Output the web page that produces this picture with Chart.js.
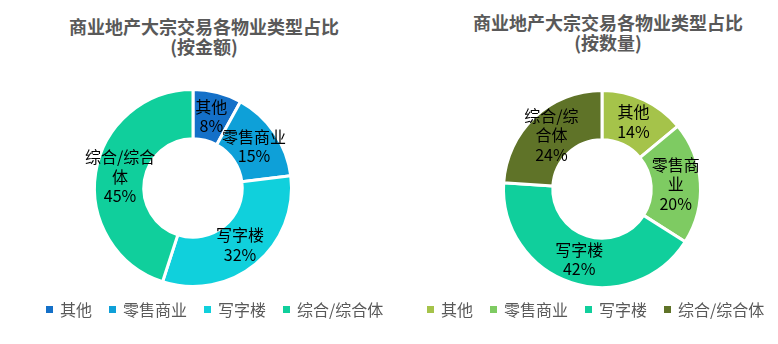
<!DOCTYPE html>
<html>
<head>
<meta charset="utf-8">
<script src="https://cdn.jsdelivr.net/npm/chart.js@4.4.1/dist/chart.umd.min.js"></script>
<style>
  html, body { margin: 0; padding: 0; background: #fff; }
  body { width: 778px; height: 344px; position: relative; overflow: hidden;
         font-family: "Microsoft YaHei", "Noto Sans CJK SC", sans-serif; }
  .title { position: absolute; width: 300px; text-align: center; font-size: 18px;
           font-weight: bold; color: #595959; line-height: 20px; }
  .donut { position: absolute; width: 220px; height: 220px; }
  .legend { position: absolute; top: 299px; display: flex; font-size: 16px; color: #595959;
            line-height: 20px; white-space: nowrap; }
  .legend span.item { display: flex; align-items: center; margin-right: 17px; }
  .legend i { display: inline-block; width: 7px; height: 7px; margin-right: 7px; }
</style>
</head>
<body>
<div class="title" style="left:54px; top:16px;">商业地产大宗交易各物业类型占比<br>(按金额)</div>
<div class="title" style="left:458px; top:12px;">商业地产大宗交易各物业类型占比<br>(按数量)</div>
<div class="donut" style="left:82.5px; top:77.5px;"><canvas id="amountChart"></canvas></div>
<div class="donut" style="left:491.5px; top:78.5px;"><canvas id="countChart"></canvas></div>
<div class="legend" id="amountLegend" style="left:46px;"></div>
<div class="legend" id="countLegend" style="left:427px;"></div>
<script>
const categories = ['其他', '零售商业', '写字楼', '综合/综合体'];
const amountShare = [8, 15, 32, 45];
const countShare = [14, 20, 42, 24];
const amountColors = ['#1470c8', '#0ea0d8', '#10d0dc', '#10cf9c'];
const countColors = ['#a5c34a', '#7ecb62', '#10cf9c', '#5f7328'];

// break a label into lines no wider than maxWidth, character by character
function wrapText(ctx, text, maxWidth) {
  const lines = [];
  let line = '';
  for (const ch of text) {
    if (line && ctx.measureText(line + ch).width > maxWidth) {
      lines.push(line);
      line = ch;
    } else {
      line += ch;
    }
  }
  if (line) lines.push(line);
  return lines;
}

// category name + percentage drawn in the middle of each ring segment
const sliceLabels = {
  id: 'sliceLabels',
  afterDatasetsDraw(chart, args, opts) {
    const ctx = chart.ctx;
    const meta = chart.getDatasetMeta(0);
    const values = chart.data.datasets[0].data;
    ctx.save();
    ctx.font = '16px "Microsoft YaHei", "Noto Sans CJK SC", sans-serif';
    ctx.fillStyle = '#000';
    ctx.textAlign = 'center';
    ctx.textBaseline = 'middle';
    meta.data.forEach((arc, i) => {
      const pos = arc.tooltipPosition();
      const lines = wrapText(ctx, chart.data.labels[i], opts.wrap);
      lines.push(values[i] + '%');
      const lh = 19.5;
      const top = pos.y - (lines.length - 1) * lh / 2;
      lines.forEach((l, k) => ctx.fillText(l, pos.x, top + k * lh));
    });
    ctx.restore();
  }
};

function makeDonut(id, values, colors, wrap) {
  return new Chart(document.getElementById(id), {
    type: 'doughnut',
    data: {
      labels: categories,
      datasets: [{
        data: values,
        backgroundColor: colors,
        borderColor: '#fff',
        borderWidth: 3
      }]
    },
    options: {
      responsive: true,
      maintainAspectRatio: false,
      animation: false,
      cutout: '50%',
      layout: { padding: 10 },
      plugins: {
        legend: { display: false },
        tooltip: { enabled: false },
        sliceLabels: { wrap: wrap }
      }
    },
    plugins: [sliceLabels]
  });
}

function buildLegend(elId, colors) {
  const el = document.getElementById(elId);
  categories.forEach((name, i) => {
    const item = document.createElement('span');
    item.className = 'item';
    item.innerHTML = '<i style="background:' + colors[i] + '"></i>' + name;
    el.appendChild(item);
  });
}

makeDonut('amountChart', amountShare, amountColors, 80);
makeDonut('countChart', countShare, countColors, 60);
buildLegend('amountLegend', amountColors);
buildLegend('countLegend', countColors);
</script>
</body>
</html>
